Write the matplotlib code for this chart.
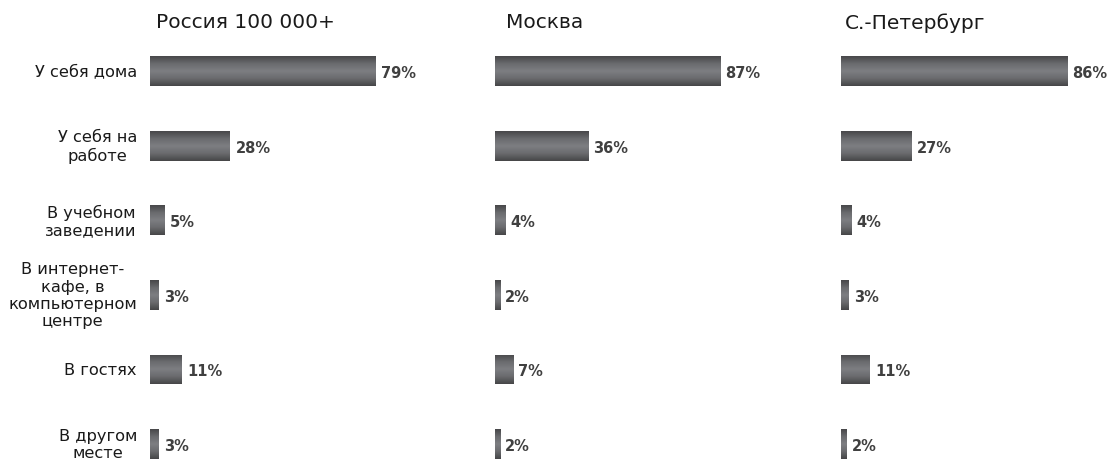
import numpy as np
import matplotlib.pyplot as plt
from matplotlib.colors import LinearSegmentedColormap

plt.rcParams['font.family'] = ['DejaVu Sans']

categories = ['У себя дома', 'У себя на\nработе', 'В учебном\nзаведении',
              'В интернет-\nкафе, в\nкомпьютерном\nцентре', 'В гостях',
              'В другом\nместе']
regions = ['Россия 100 000+', 'Москва', 'С.-Петербург']
russia = [79, 28, 5, 3, 11, 3]
moscow = [87, 36, 4, 2, 7, 2]
spb = [86, 27, 4, 3, 11, 2]
series = [russia, moscow, spb]

xmax = [94.4, 103.9, 102.3]
lefts = [150, 495, 841]
title_x = [156, 506, 845]

cmap = LinearSegmentedColormap.from_list('bar', ['#48484a', '#6a6b6e', '#7d7e82', '#6a6b6e', '#464648'])
grad = np.linspace(0, 1, 64).reshape(-1, 1)

fig = plt.figure(figsize=(11.1, 4.6), dpi=100)
W, H = 1110, 460
top = (460 - 34.7) / H
y = np.arange(len(categories))

for i, (name, vals) in enumerate(zip(regions, series)):
    ax = fig.add_axes([lefts[i] / W, 0, 269 / W, top])
    bars = ax.barh(y, vals, height=0.4, color='none', edgecolor='none')
    for b, v in zip(bars, vals):
        x0, y0 = b.get_x(), b.get_y()
        w, h = b.get_width(), b.get_height()
        im = ax.imshow(grad, cmap=cmap, aspect='auto',
                       extent=[x0, x0 + w, y0 + h, y0], zorder=2)
        im.set_clip_path(b)
        ax.text(x0 + w + 2.0, y0 + h / 2 + 0.02, f'{v}%', va='center', ha='left',
                fontsize=10.5, fontweight='bold', color='#404040')
    ax.set_xlim(0, xmax[i])
    ax.set_ylim(5.2, -0.5)
    ax.set_axis_off()
    fig.text(title_x[i] / W, 1 - 23 / H, name, fontsize=14.5, color='#1a1a1a',
             ha='left', va='center')

ax0 = fig.axes[0]
for yi, cat in zip(y, categories):
    ax0.text(-4.6, yi, cat, ha='right', va='center', multialignment='center',
             fontsize=11.7, color='#1a1a1a', linespacing=1.2)

fig.savefig('out.png', dpi=100)
